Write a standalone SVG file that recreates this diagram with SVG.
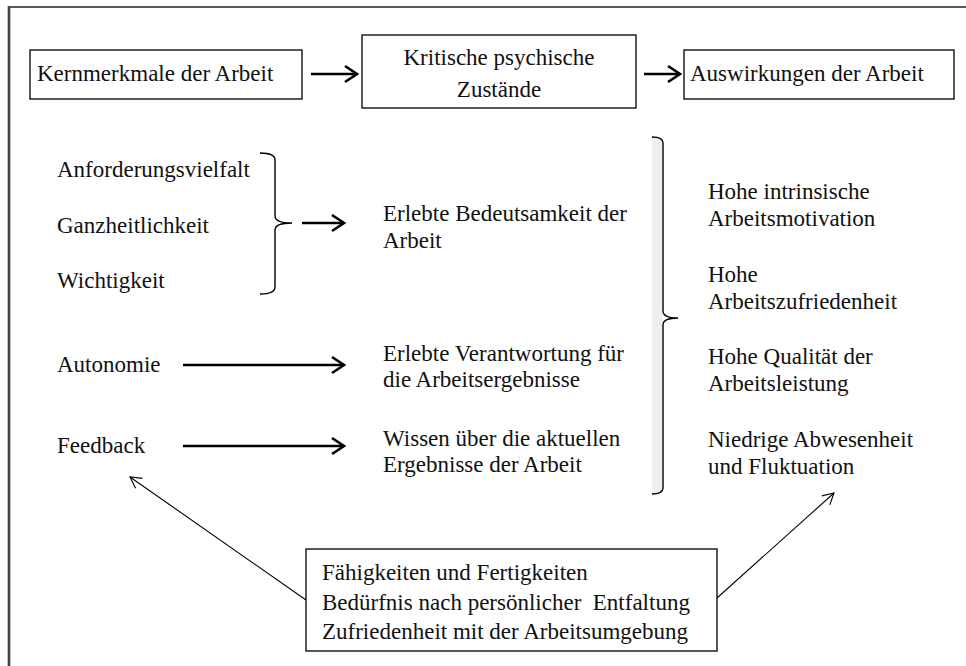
<svg xmlns="http://www.w3.org/2000/svg" width="966" height="666" viewBox="0 0 966 666" font-family="'Liberation Serif', 'Times New Roman', serif">
<style>
text{font-family:'Liberation Serif','Times New Roman',serif;font-size:23px;fill:#111}
.box{fill:#fff;stroke:#111;stroke-width:1.4}
.thick{stroke:#000;stroke-width:2.6;fill:none}
.thin{stroke:#000;stroke-width:1.1;fill:none}
.br{stroke:#000;stroke-width:1.4;fill:none}
</style>
<defs>
<marker id="ah" markerUnits="userSpaceOnUse" markerWidth="20" markerHeight="20" refX="14" refY="10" orient="auto">
<path d="M2,2 L14,10 L2,18" fill="none" stroke="#000" stroke-width="2.6"/>
</marker>
<marker id="ahs" markerUnits="userSpaceOnUse" markerWidth="20" markerHeight="20" refX="14" refY="10" orient="auto">
<path d="M3,4 L14,10 L3,16" fill="none" stroke="#000" stroke-width="1.1"/>
</marker>
</defs>
<rect width="966" height="666" fill="#fff"/>
<g id="frame">
<line x1="9" y1="7" x2="966" y2="7" stroke="#222" stroke-width="1.6"/>
<line x1="9" y1="6" x2="9" y2="666" stroke="#444" stroke-width="2.6"/>
</g>
<g id="connectors">
<line class="thick" x1="311" y1="74" x2="357" y2="74" marker-end="url(#ah)"/>
<line class="thick" x1="644" y1="74" x2="680" y2="74" marker-end="url(#ah)"/>
<line class="thick" x1="302" y1="223" x2="344" y2="223" marker-end="url(#ah)"/>
<line class="thick" x1="183" y1="365" x2="344" y2="365" marker-end="url(#ah)"/>
<line class="thick" x1="183" y1="446" x2="344" y2="446" marker-end="url(#ah)"/>
<line class="thin" x1="306" y1="600" x2="130" y2="477" marker-end="url(#ahs)"/>
<line class="thin" x1="717" y1="598" x2="834" y2="493" marker-end="url(#ahs)"/>
</g>
<g id="kernmerkmale">
<rect class="box" x="30" y="50" width="272" height="49"/>
<text x="37" y="81">Kernmerkmale der Arbeit</text>
</g>
<g id="zustaende">
<rect class="box" x="362" y="35" width="274" height="73"/>
<text x="499" y="65" text-anchor="middle">Kritische psychische</text>
<text x="499" y="97" text-anchor="middle">Zustände</text>
</g>
<g id="auswirkungen">
<rect class="box" x="684" y="50" width="270" height="49"/>
<text x="690" y="81">Auswirkungen der Arbeit</text>
</g>
<g id="kernliste">
<text x="57" y="177">Anforderungsvielfalt</text>
<text x="57" y="233">Ganzheitlichkeit</text>
<text x="57" y="288">Wichtigkeit</text>
<text x="57" y="372">Autonomie</text>
<text x="57" y="453">Feedback</text>
</g>
<g id="klammer1">
<path class="br" d="M260,153 Q275,153 275,160 L275,216 Q275,223 292,223 Q275,223 275,230 L275,287 Q275,294 260,294"/>
</g>
<g id="zustandsliste">
<text x="383" y="221">Erlebte Bedeutsamkeit der</text>
<text x="383" y="248">Arbeit</text>
<text x="383" y="361">Erlebte Verantwortung für</text>
<text x="383" y="387">die Arbeitsergebnisse</text>
<text x="383" y="446">Wissen über die aktuellen</text>
<text x="383" y="472">Ergebnisse der Arbeit</text>
</g>
<g id="klammer2">
<rect x="652" y="138" width="10" height="355" fill="#efefef"/>
<path class="br" d="M652,137 Q663,137 663,143 L663,311 Q663,318 678,318 Q663,318 663,325 L663,488 Q663,494 652,494"/>
</g>
<g id="auswirkungsliste">
<text x="708" y="199">Hohe intrinsische</text>
<text x="708" y="226">Arbeitsmotivation</text>
<text x="708" y="282">Hohe</text>
<text x="708" y="309">Arbeitszufriedenheit</text>
<text x="708" y="364">Hohe Qualität der</text>
<text x="708" y="391">Arbeitsleistung</text>
<text x="708" y="447">Niedrige Abwesenheit</text>
<text x="708" y="474">und Fluktuation</text>
</g>
<g id="moderatoren">
<rect class="box" x="306" y="549" width="411" height="102"/>
<text x="322" y="580">Fähigkeiten und Fertigkeiten</text>
<text x="322" y="610" xml:space="preserve">Bedürfnis nach persönlicher  Entfaltung</text>
<text x="322" y="639">Zufriedenheit mit der Arbeitsumgebung</text>
</g>
</svg>
